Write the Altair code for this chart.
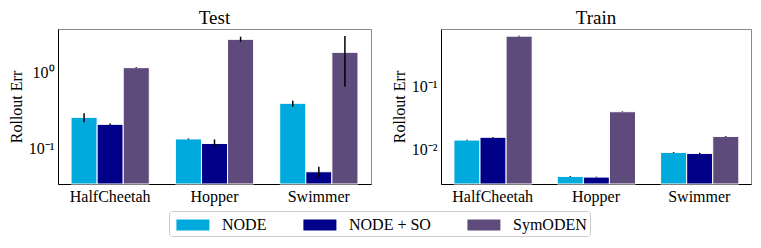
import altair as alt
import pandas as pd

envs = ["HalfCheetah", "Hopper", "Swimmer"]
methods = ["NODE", "NODE + SO", "SymODEN"]
colors = ["#00AADD", "#000088", "#5F4B7B"]

# Test panel values (per env: NODE, NODE+SO, SymODEN)
test_val = [[0.255, 0.206, 1.16], [0.132, 0.115, 2.75], [0.391, 0.0485, 1.85]]
test_lo = [[0.219, 0.201, 1.15], [0.130, 0.104, 2.56], [0.352, 0.0410, 0.649]]
test_hi = [[0.288, 0.211, 1.17], [0.134, 0.130, 2.98], [0.423, 0.0565, 3.04]]

# Train panel values
train_val = [[0.0141, 0.0156, 0.61], [0.00378, 0.00369, 0.0394], [0.00903, 0.0087, 0.0161]]
train_lo = [[0.0139, 0.0154, 0.60], [0.00372, 0.00364, 0.0390], [0.00888, 0.0085, 0.0159]]
train_hi = [[0.0143, 0.0158, 0.62], [0.00384, 0.00374, 0.0398], [0.00918, 0.0089, 0.0163]]

test_domain = [0.0334, 3.77]
train_domain = [0.00287, 0.79]
test_ticks = [0.1, 1]
train_ticks = [0.01, 0.1]

FONT = "Liberation Serif"


def make_df(val, lo, hi):
    rows = []
    for i, e in enumerate(envs):
        for j, m in enumerate(methods):
            rows.append({"env": e, "method": m, "value": val[i][j], "lo": lo[i][j], "hi": hi[i][j]})
    return pd.DataFrame(rows)


label_expr = ("datum.value == 1 ? '10⁰' : datum.value == 0.1 ? '10⁻¹' : "
              "datum.value == 0.01 ? '10⁻²' : ''")


def panel(df, title, domain, ticks, width):
    x = alt.X("env:N", sort=envs, title=None,
              scale=alt.Scale(paddingInner=0.25, paddingOuter=0.125),
              axis=alt.Axis(labelAngle=0, ticks=False, labelPadding=4, domainColor="#000",
                            labelFont=FONT, labelFontSize=16, labelColor="#000"))
    xo = alt.XOffset("method:N", sort=methods, scale=alt.Scale(paddingInner=0))
    yscale = alt.Scale(type="log", domain=domain, nice=False)
    y = alt.Y("value:Q", scale=yscale, title="Rollout Err",
              axis=alt.Axis(values=ticks, labelExpr=label_expr, ticks=False, grid=False,
                            domainColor="#000", labelPadding=4, titlePadding=4,
                            labelFont=FONT, labelFontSize=16, labelColor="#000",
                            titleFont=FONT, titleFontSize=16, titleFontWeight="normal",
                            titleColor="#000"))
    bars = alt.Chart(df).mark_bar(stroke="white", strokeWidth=1).encode(
        x=x, xOffset=xo, y=y,
        y2=alt.Y2(datum=domain[0]),
        color=alt.Color("method:N", sort=methods,
                        scale=alt.Scale(domain=methods, range=colors),
                        legend=alt.Legend(title=None, orient="none", direction="horizontal",
                                          legendX=111, legendY=182)),
    )
    errs = alt.Chart(df).mark_bar(size=1.5, color="black").encode(
        x=x, xOffset=xo,
        y=alt.Y("lo:Q", scale=yscale),
        y2="hi:Q",
    )
    return alt.layer(bars, errs).properties(
        width=width, height=155,
        title=alt.TitleParams(title, font=FONT, fontSize=19, fontWeight="normal",
                              color="#000", offset=1))


left = panel(make_df(test_val, test_lo, test_hi), "Test", test_domain, test_ticks, 313)
right = panel(make_df(train_val, train_lo, train_hi), "Train", train_domain, train_ticks, 310)

chart = alt.hconcat(left, right, spacing=70, bounds="flush").properties(
    padding={"left": -1, "top": 0, "right": 0, "bottom": 0}
).configure_view(stroke="#888", strokeWidth=1).configure_legend(
    symbolType="M-0.6,-0.5h3v1h-3Z",
    symbolSize=484,
    symbolStrokeWidth=0,
    labelFont=FONT,
    labelFontSize=16,
    labelColor="#000",
    labelOffset=28,
    columnPadding=32,
    padding=3,
    strokeColor="#ccc",
    cornerRadius=3,
    fillColor="white",
).configure_axis(grid=False)

chart.save("out.html", embed_options={"renderer": "svg", "actions": False})
